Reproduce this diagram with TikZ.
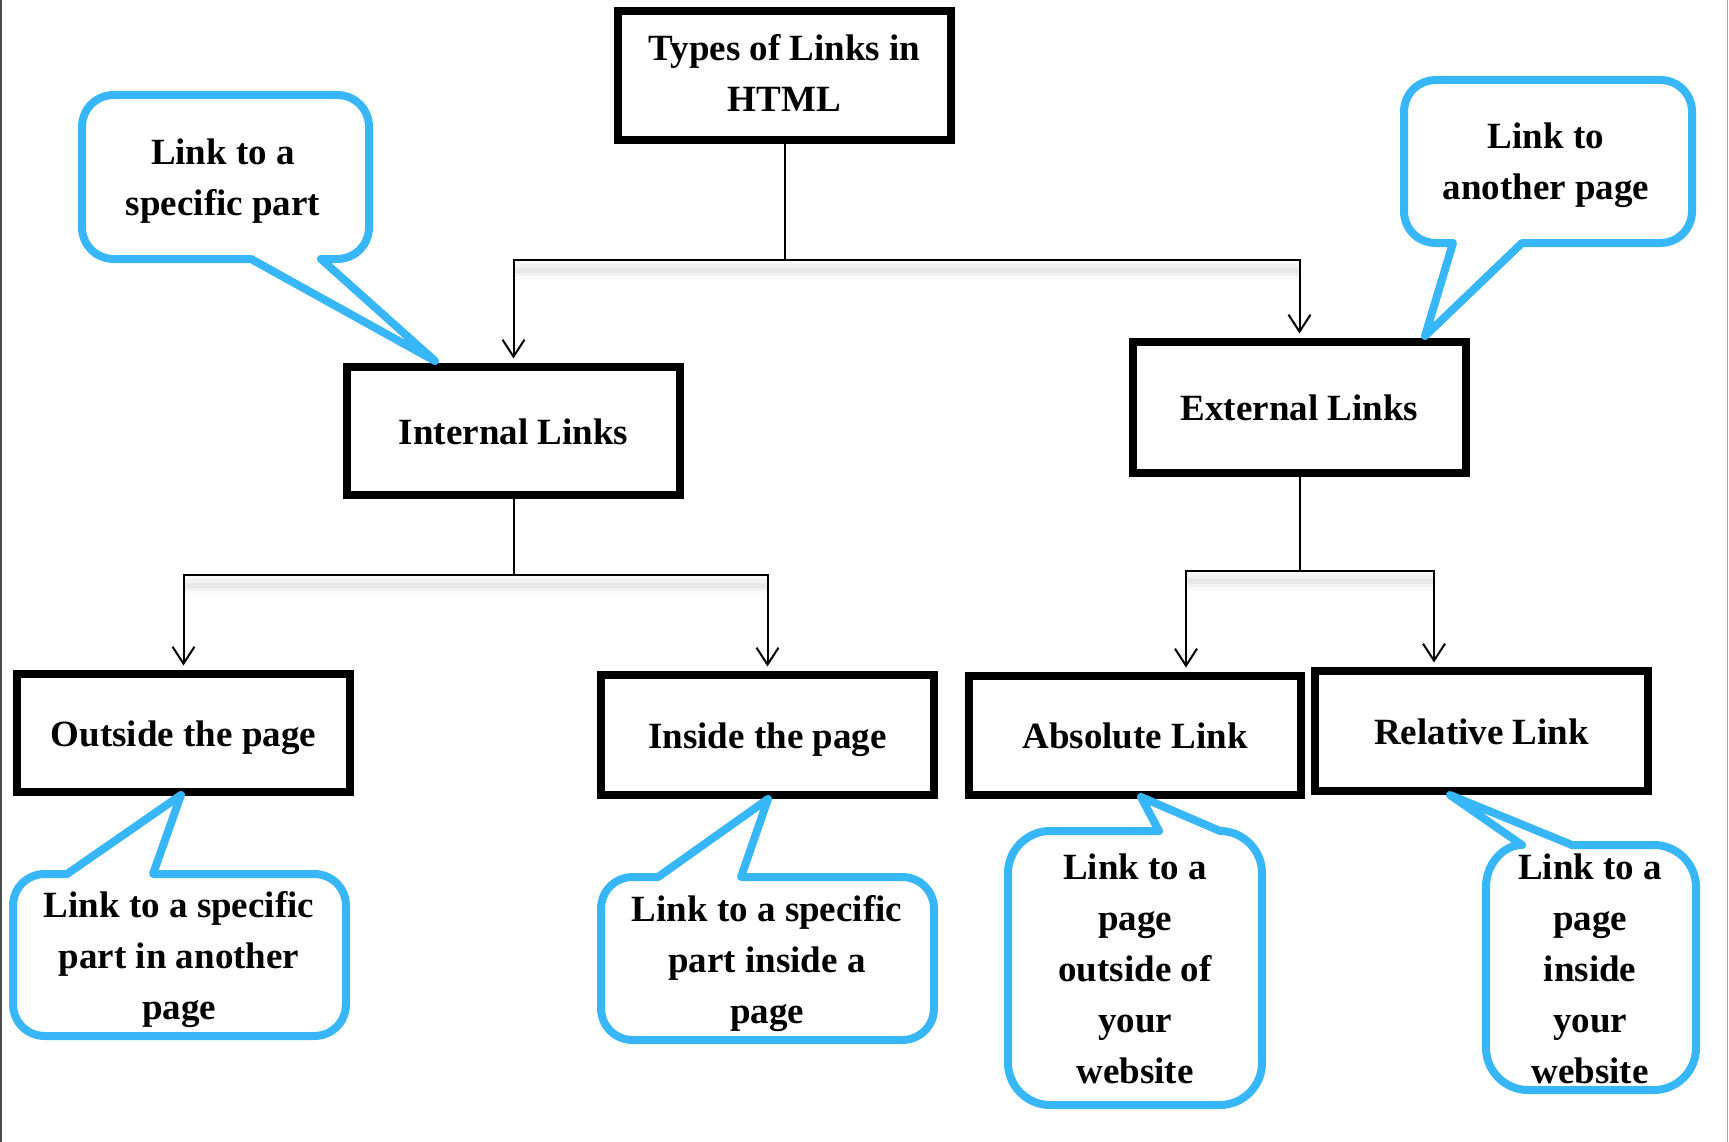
\documentclass[tikz,border=0pt]{standalone}
\usepackage{fontspec}
\setmainfont{Liberation Serif}
\usetikzlibrary{arrows.meta}
\definecolor{cblue}{RGB}{56,182,250}
\begin{document}
\begin{tikzpicture}[x=1pt,y=-1pt,
  boxbase/.style={draw=black, line width=8.5pt, inner sep=0pt, minimum width=333pt, fill=white,
    font=\bfseries\fontsize{37}{51}\selectfont},
  box/.style={boxbase, text height=26pt, text depth=0pt},
  ctext/.style={inner sep=0pt, anchor=base, font=\bfseries\fontsize{37}{51}\selectfont},
  callout/.style={draw=cblue, line width=8pt, line join=round, fill=white},
  conn/.style={line width=2pt, black},
  arr/.style={conn, -{Straight Barb[length=17pt,width=22pt]}, shorten >=4.25pt},
  shA/.style={line width=20pt, black, opacity=0.02},
  shB/.style={line width=12pt, black, opacity=0.03},
  shC/.style={line width=5pt, black, opacity=0.04}
]
\fill[white] (0,0) rectangle (1729,1142);
\useasboundingbox (0,0) rectangle (1729,1142);
\draw[line width=2pt, black!70] (1,0) -- (1,1142);
\draw[line width=1pt, black!35] (1727.5,0) -- (1727.5,1142);

% boxes
\node[boxbase, minimum height=129pt] (top) at (784.5,75.5)
  {\begin{tabular}[t]{@{}c@{}}Types of Links in\\HTML\end{tabular}};
\node[box, minimum height=128pt] (int) at (513.5,431) {Internal Links};
\node[box, minimum height=131pt] (ext) at (1299.5,407.5) {External Links};
\node[box, minimum height=118pt] (out) at (183.5,733) {Outside the page};
\node[box, minimum height=120pt] (ins) at (767.5,735) {Inside the page};
\node[box, minimum height=119pt, minimum width=332pt] (abs) at (1135,735.5) {Absolute Link};
\node[box, minimum height=120pt] (rel) at (1481.5,731) {Relative Link};

% junctions
\coordinate (j1) at (784.5,260);
\coordinate (j2) at (513.5,575);
\coordinate (j3) at (1299.5,571);

% soft shadows under the horizontal connectors
\foreach \s in {shA,shB,shC}{
  \draw[\s] ([yshift=-10pt]int.north |- j1) -- ([yshift=-10pt]ext.north |- j1);
  \draw[\s] ([yshift=-10pt]out.north |- j2) -- ([yshift=-10pt]ins.north |- j2);
  \draw[\s] ([yshift=-10pt,xshift=51pt]abs.north |- j3) -- ([yshift=-10pt,xshift=-47.5pt]rel.north |- j3);
}

% connectors
\draw[conn] (top.south) -- (j1);
\draw[arr] (j1) -| (int.north);
\draw[arr] (j1) -| (ext.north);
\draw[conn] (int.south) -- (j2);
\draw[arr] (j2) -| (out.north);
\draw[arr] (j2) -| (ins.north);
\draw[conn] (ext.south) -- (j3);
\draw[arr] (j3) -| ([xshift=51pt]abs.north);
\draw[arr] (j3) -| ([xshift=-47.5pt]rel.north);

% callouts
\draw[callout] (114,95) -- (337,95) .. controls (355,95) and (369,109) .. (369,127) -- (369,227)
  .. controls (369,245) and (355,259) .. (337,259) -- (321,259) -- (435,361) -- (251,259) -- (114,259)
  .. controls (96,259) and (82,245) .. (82,227) -- (82,127) .. controls (82,109) and (96,95) .. (114,95) -- cycle;
\draw[callout] (1436,80) -- (1660,80) .. controls (1678,80) and (1692,94) .. (1692,112) -- (1692,211)
  .. controls (1692,229) and (1678,243) .. (1660,243) -- (1522,243) -- (1425,336) -- (1453,243) -- (1436,243)
  .. controls (1418,243) and (1404,229) .. (1404,211) -- (1404,112) .. controls (1404,94) and (1418,80) .. (1436,80) -- cycle;
\draw[callout] (45,874) -- (67,874) -- (181,795) -- (153,874) -- (314,874)
  .. controls (332,874) and (346,888) .. (346,906) -- (346,1004) .. controls (346,1022) and (332,1036) .. (314,1036)
  -- (45,1036) .. controls (27,1036) and (13,1022) .. (13,1004) -- (13,906) .. controls (13,888) and (27,874) .. (45,874) -- cycle;
\draw[callout] (633,877) -- (658,877) -- (768,799) -- (741,877) -- (902,877)
  .. controls (920,877) and (934,891) .. (934,909) -- (934,1008) .. controls (934,1026) and (920,1040) .. (902,1040)
  -- (633,1040) .. controls (615,1040) and (601,1026) .. (601,1008) -- (601,909) .. controls (601,891) and (615,877) .. (633,877) -- cycle;
\draw[callout] (1050,831) -- (1159,831) -- (1141,797) -- (1220,831)
  .. controls (1243,831) and (1262,850) .. (1262,873) -- (1262,1063) .. controls (1262,1086) and (1243,1105) .. (1220,1105)
  -- (1050,1105) .. controls (1027,1105) and (1008,1086) .. (1008,1063) -- (1008,873) .. controls (1008,850) and (1027,831) .. (1050,831) -- cycle;
\draw[callout] (1486,887) .. controls (1486,864) and (1503,845) .. (1522,845) -- (1450,795) -- (1572,845) -- (1654,845)
  .. controls (1677,845) and (1696,864) .. (1696,887) -- (1696,1048) .. controls (1696,1071) and (1677,1090) .. (1654,1090)
  -- (1528,1090) .. controls (1505,1090) and (1486,1071) .. (1486,1048) -- cycle;

% callout texts
\node[ctext] (c1) at (223,165) {\begin{tabular}[t]{@{}c@{}}Link to a\\specific part\end{tabular}};
\node[ctext] (c2) at (1546,149) {\begin{tabular}[t]{@{}c@{}}Link to\\another page\end{tabular}};
\node[ctext] (c3) at (179,917) {\begin{tabular}[t]{@{}c@{}}Link to a specific\\part in another\\page\end{tabular}};
\node[ctext] (c4) at (767,921) {\begin{tabular}[t]{@{}c@{}}Link to a specific\\part inside a\\page\end{tabular}};
\node[ctext] (c5) at (1135,879) {\begin{tabular}[t]{@{}c@{}}Link to a\\page\\outside of\\your\\website\end{tabular}};
\node[ctext] (c6) at (1590,879) {\begin{tabular}[t]{@{}c@{}}Link to a\\page\\inside\\your\\website\end{tabular}};
\end{tikzpicture}
\end{document}
